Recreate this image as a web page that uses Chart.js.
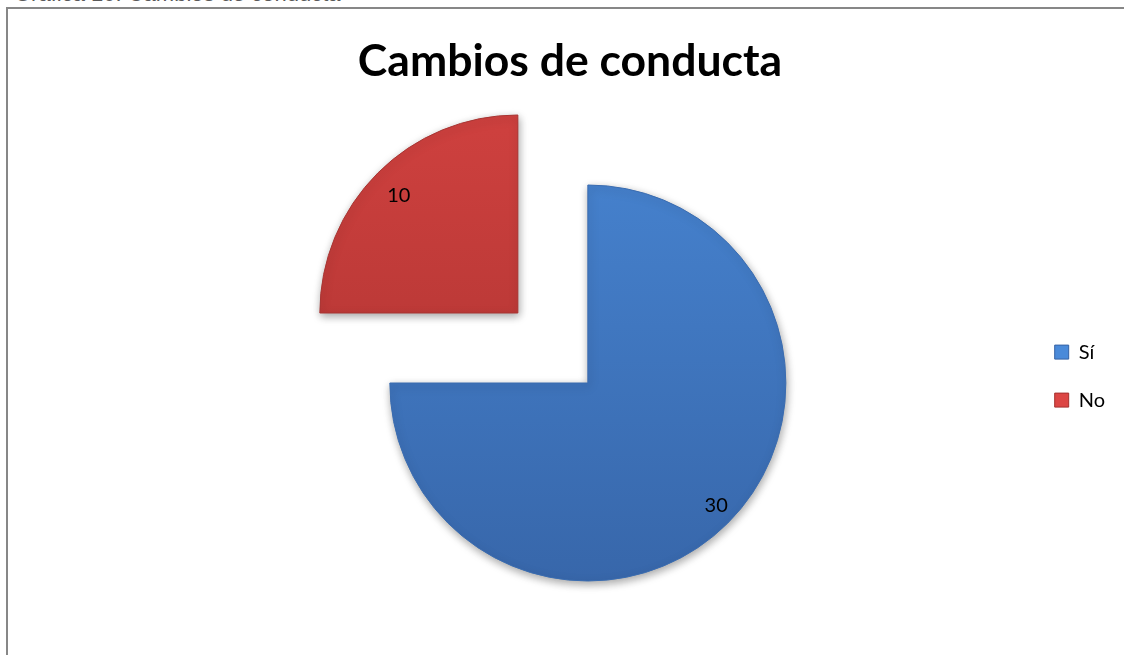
<!DOCTYPE html>
<html>
<head>
<meta charset="utf-8">
<script src="https://cdn.jsdelivr.net/npm/chart.js@4"></script>
<style>
  html, body { margin: 0; padding: 0; background: #fff; overflow: hidden; }
  #wrap { position: absolute; left: 0; top: 0; width: 1124px; height: 655px; }
  #frame { position: absolute; left: 6px; top: 7px; width: 1130px; height: 700px; border: 2px solid #878787; box-sizing: border-box; }
  #caption { position: absolute; left: 14px; top: -19px; font: 22px "Liberation Sans", sans-serif; color: #595959; white-space: nowrap; }
  #titulo { position: absolute; left: 270px; width: 600px; top: 32px; text-align: center;
            font: bold 44.5px/53px Lato, sans-serif; color: #000; white-space: nowrap; }
  canvas { position: absolute; left: 0; top: 0; }
</style>
</head>
<body>
<div id="wrap">
  <div id="caption">Gráfica 10. Cambios de conducta</div>
  <div id="frame"></div>
  <canvas id="chart" width="1124" height="655"></canvas>
  <div id="titulo"></div>
</div>
<script>
const categorias = ['Sí', 'No'];
const valores = [30, 10];
const titulo = 'Cambios de conducta';

const coloresArriba = ['#4a8ad9', '#dc4644'];
const coloresAbajo = ['#3562a4', '#a5302e'];

document.getElementById('titulo').textContent = titulo;

function gradiente(ctx) {
  const chart = ctx.chart;
  const area = chart.chartArea;
  if (!area) return coloresArriba[ctx.dataIndex];
  const g = chart.ctx.createLinearGradient(0, area.top - 80, 0, area.bottom);
  g.addColorStop(0, coloresArriba[ctx.dataIndex]);
  g.addColorStop(1, coloresAbajo[ctx.dataIndex]);
  return g;
}

// etiquetas de valor dentro de cada sector
const etiquetas = {
  id: 'etiquetas',
  afterDatasetsDraw(chart) {
    const ctx = chart.ctx;
    const meta = chart.getDatasetMeta(0);
    ctx.save();
    ctx.font = '20px Lato, "Open Sans", sans-serif';
    ctx.fillStyle = '#000';
    ctx.textAlign = 'center';
    ctx.textBaseline = 'middle';
    meta.data.forEach((arc, i) => {
      const p = arc.getProps(['x', 'y', 'startAngle', 'endAngle', 'outerRadius']);
      const mid = (p.startAngle + p.endAngle) / 2 - (i === 0 ? 0.03 : 0);
      const off = (arc.options.offset || 0) / 4;
      const r = p.outerRadius * (i === 0 ? 0.89 : 0.85);
      const x = p.x + Math.cos(mid) * (r + off);
      const y = p.y + Math.sin(mid) * (r + off);
      ctx.fillText(String(valores[i]), x, y + 2);
    });
    ctx.restore();
  }
};

// sombra suave bajo los sectores
const sombra = {
  id: 'sombra',
  beforeDatasetsDraw(chart) {
    const ctx = chart.ctx;
    ctx.save();
    ctx.shadowColor = 'rgba(0,0,0,0.35)';
    ctx.shadowBlur = 8;
    ctx.shadowOffsetX = 1;
    ctx.shadowOffsetY = 3;
  },
  afterDatasetsDraw(chart) {
    chart.ctx.restore();
  }
};

new Chart(document.getElementById('chart'), {
  type: 'pie',
  data: {
    labels: categorias,
    datasets: [{
      data: valores,
      backgroundColor: gradiente,
      borderColor: ['#3a6cb0', '#a83533'],
      borderWidth: 1,
      offset: [0, 396],
      hoverOffset: 0
    }]
  },
  options: {
    responsive: false,
    animation: false,
    radius: 198,
    layout: { padding: { top: 111, left: 149, right: 9, bottom: 0 } },
    plugins: {
      title: { display: false },
      legend: {
        position: 'right',
        // título vacío solo para subir un poco las entradas
        title: { display: true, text: '', font: { size: 1 }, padding: { top: -15, bottom: 0 } },
        labels: {
          color: '#000',
          font: { family: 'Lato', size: 20 },
          boxWidth: 14,
          boxHeight: 14,
          padding: 28,
          generateLabels(chart) {
            return categorias.map((c, i) => ({
              text: c,
              fillStyle: coloresArriba[i],
              strokeStyle: coloresAbajo[i],
              fontColor: '#000',
              lineWidth: 1,
              index: i
            }));
          }
        }
      },
      tooltip: { enabled: false }
    }
  },
  plugins: [sombra, etiquetas]
});
</script>
</body>
</html>
